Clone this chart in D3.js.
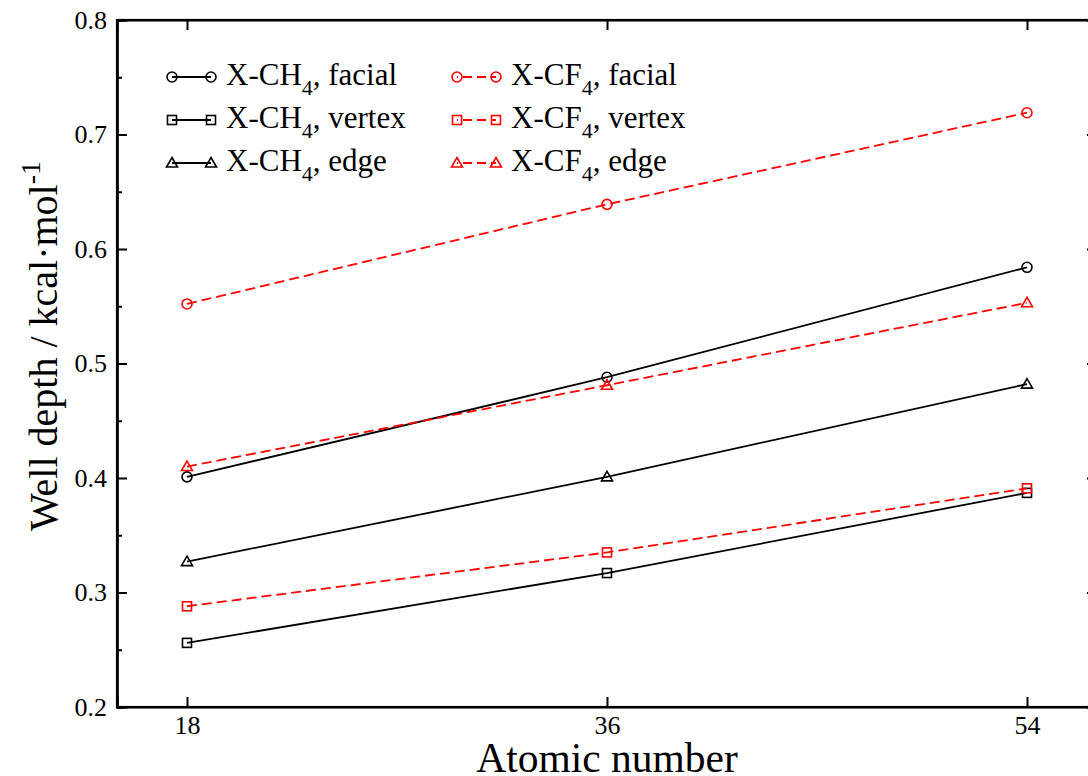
<!DOCTYPE html>
<html>
<head>
<meta charset="utf-8">
<script src="https://cdn.jsdelivr.net/npm/d3@7"></script>
<style>
  html, body { margin: 0; padding: 0; background: #fff; }
  svg { display: block; }
</style>
</head>
<body>
<svg id="chart" width="1088" height="776"></svg>
<script>
// Atomic numbers of the noble gases (Ar, Kr, Xe)
const atomicNumbers = [18, 36, 54];

// Well depths in kcal/mol
const ch4Facial = [0.401, 0.488, 0.584];
const ch4Vertex = [0.256, 0.317, 0.387];
const ch4Edge   = [0.327, 0.401, 0.482];
const cf4Facial = [0.552, 0.639, 0.719];
const cf4Vertex = [0.288, 0.335, 0.391];
const cf4Edge   = [0.410, 0.481, 0.553];

const xTicks = [18, 36, 54];
const yTicks = [0.2, 0.3, 0.4, 0.5, 0.6, 0.7, 0.8];
const yMinorTicks = [0.25, 0.35, 0.45, 0.55, 0.65, 0.75];

const FONT = "'Liberation Serif', 'Times New Roman', serif";

const seriesList = [
  { mol: "CH", values: ch4Facial, site: "facial", symbol: "circle",   color: "#000", dashed: false },
  { mol: "CH", values: ch4Vertex, site: "vertex", symbol: "square",   color: "#000", dashed: false },
  { mol: "CH", values: ch4Edge,   site: "edge",   symbol: "triangle", color: "#000", dashed: false },
  { mol: "CF", values: cf4Facial, site: "facial", symbol: "circle",   color: "#ff0000", dashed: true },
  { mol: "CF", values: cf4Vertex, site: "vertex", symbol: "square",   color: "#ff0000", dashed: true },
  { mol: "CF", values: cf4Edge,   site: "edge",   symbol: "triangle", color: "#ff0000", dashed: true }
];

const svg = d3.select("#chart").style("font-family", FONT);
const x = d3.scaleLinear().domain([15, 57]).range([117, 1097]);
const y = d3.scaleLinear().domain([0.2, 0.8]).range([707, 20]);

const x0 = x.range()[0], x1 = x.range()[1];
const y0 = y.range()[0], y1 = y.range()[1];

// axes with inward ticks on all four sides
const axisG = svg.append("g");
axisG.append("g").attr("transform", `translate(0,${y0})`)
  .call(d3.axisBottom(x).tickValues(xTicks).tickSize(-10).tickPadding(9).tickFormat(d3.format("d")));
axisG.append("g").attr("transform", `translate(0,${y1})`)
  .call(d3.axisTop(x).tickValues(xTicks).tickSize(-10).tickFormat(""));
axisG.append("g").attr("transform", `translate(${x0},0)`)
  .call(d3.axisLeft(y).tickValues(yTicks).tickSize(-10).tickPadding(10).tickFormat(d3.format(".1f")));
axisG.append("g").attr("transform", `translate(${x0},0)`)
  .call(d3.axisLeft(y).tickValues(yMinorTicks).tickSize(-5).tickFormat(""));
axisG.append("g").attr("transform", `translate(${x1},0)`)
  .call(d3.axisRight(y).tickValues(yTicks).tickSize(-10).tickFormat(""));
axisG.append("g").attr("transform", `translate(${x1},0)`)
  .call(d3.axisRight(y).tickValues(yMinorTicks).tickSize(-5).tickFormat(""));

axisG.selectAll("g").attr("font-family", null).attr("font-size", null);
axisG.selectAll(".domain").attr("stroke", "#000").attr("stroke-width", 2.2);
axisG.selectAll(".tick line").attr("stroke", "#000").attr("stroke-width", 2);
axisG.selectAll(".tick text").style("font-family", FONT).style("font-size", "26px").attr("fill", "#000");

// frame
svg.append("rect").attr("x", x0).attr("y", y1).attr("width", x1 - x0).attr("height", y0 - y1)
  .attr("fill", "none").attr("stroke", "#000").attr("stroke-width", 2.2);

// axis titles
svg.append("text").attr("x", (x0 + x1) / 2).attr("y", 772)
  .attr("text-anchor", "middle").style("font-size", "41.5px").text("Atomic number");

const yt = svg.append("text")
  .attr("transform", `translate(57,346) rotate(-90)`)
  .attr("text-anchor", "middle").style("font-size", "40px");
yt.append("tspan").text("Well depth / kcal\u00B7mol");
yt.append("tspan").style("font-size", "28px").attr("dy", -17).text("-1");

// marker drawing
function drawMarker(g, sym, cx, cy, color) {
  if (sym === "circle") {
    g.append("circle").attr("cx", cx).attr("cy", cy).attr("r", 5)
      .attr("fill", "none").attr("stroke", color).attr("stroke-width", 1.6);
  } else if (sym === "square") {
    g.append("rect").attr("x", cx - 4.5).attr("y", cy - 4.5).attr("width", 9).attr("height", 9)
      .attr("fill", "none").attr("stroke", color).attr("stroke-width", 1.6);
  } else {
    g.append("path")
      .attr("d", `M${cx},${cy - 5.5}L${cx + 5.5},${cy + 4}L${cx - 5.5},${cy + 4}Z`)
      .attr("fill", "none").attr("stroke", color).attr("stroke-width", 1.6);
  }
}

const line = d3.line().x((d, i) => x(atomicNumbers[i])).y(d => y(d));
const plot = svg.append("g");
seriesList.forEach(s => {
  plot.append("path").datum(s.values).attr("d", line)
    .attr("fill", "none").attr("stroke", s.color).attr("stroke-width", 1.8)
    .attr("stroke-dasharray", s.dashed ? "10,5" : null);
  const mg = plot.append("g");
  s.values.forEach((v, i) => drawMarker(mg, s.symbol, x(atomicNumbers[i]), y(v), s.color));
});

// legend, two columns of three rows
const legend = svg.append("g");
seriesList.forEach((s, k) => {
  const col = Math.floor(k / 3), row = k % 3;
  const lx = col === 0 ? 172 : 457;
  const ly = 77 + row * 43;
  legend.append("line").attr("x1", lx).attr("x2", lx + 39).attr("y1", ly).attr("y2", ly)
    .attr("stroke", s.color).attr("stroke-width", 1.8)
    .attr("stroke-dasharray", s.dashed ? "9,5" : null)
    .attr("stroke-dashoffset", s.dashed ? -6 : 0);
  drawMarker(legend, s.symbol, lx, ly, s.color);
  drawMarker(legend, s.symbol, lx + 39, ly, s.color);
  const t = legend.append("text").attr("x", lx + 54).attr("y", ly + 8).style("font-size", "31px").attr("fill", "#000");
  t.append("tspan").text("X-" + s.mol);
  t.append("tspan").style("font-size", "22px").attr("dy", 10).text("4");
  t.append("tspan").attr("dy", -10).text(", " + s.site);
});
</script>
</body>
</html>
